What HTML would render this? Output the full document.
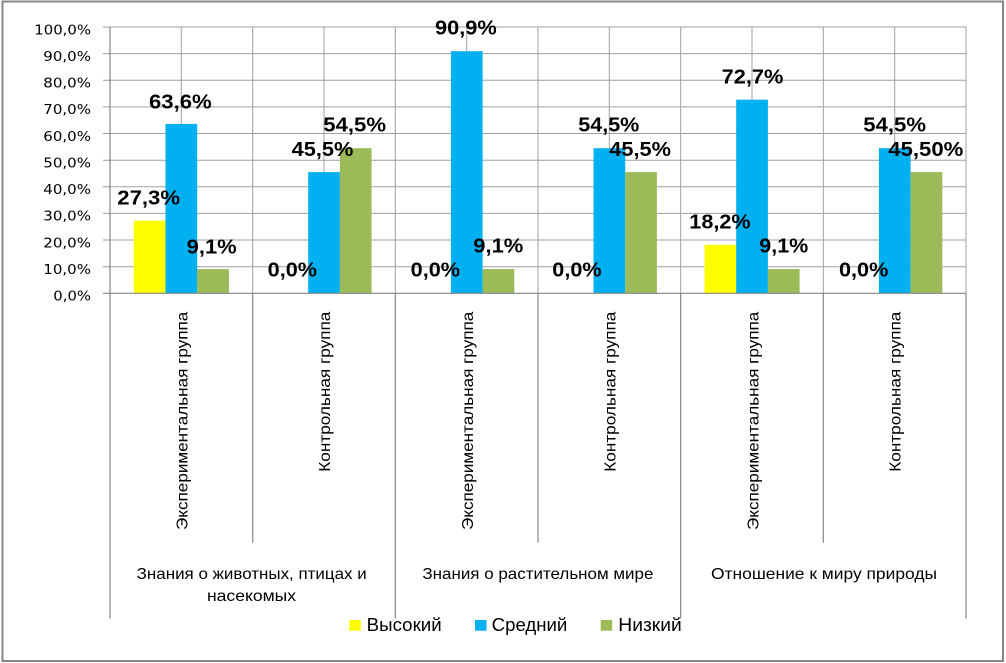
<!DOCTYPE html>
<html>
<head>
<meta charset="utf-8">
<style>
  html, body { margin:0; padding:0; background:#ffffff; }
  body { width:1006px; height:663px; overflow:hidden; }
  svg { display:block; }
  .yl { font-family:"DejaVu Sans","Liberation Sans",sans-serif; font-size:13px; fill:#000; }
  .dl { font-family:"Liberation Sans",sans-serif; font-size:20px; font-weight:bold; fill:#000; }
  .cl { font-family:"Liberation Sans",sans-serif; font-size:16px; fill:#000; }
  .lg { font-family:"Liberation Sans",sans-serif; font-size:18px; fill:#000; }
</style>
</head>
<body>
<svg width="1006" height="663" viewBox="0 0 1006 663" xmlns="http://www.w3.org/2000/svg">
  <rect x="0" y="0" width="1006" height="663" fill="#ffffff"/>
  <!-- outer frame -->
  <rect x="2.5" y="1.5" width="1000.5" height="659.5" fill="none" stroke="#868686" stroke-width="2"/>

  <!-- horizontal gridlines + ticks -->
  <g stroke="#a0a0a0" stroke-width="1">
    <line x1="103" y1="27.0" x2="966" y2="27.0"/>
    <line x1="103" y1="53.6" x2="966" y2="53.6"/>
    <line x1="103" y1="80.3" x2="966" y2="80.3"/>
    <line x1="103" y1="106.9" x2="966" y2="106.9"/>
    <line x1="103" y1="133.5" x2="966" y2="133.5"/>
    <line x1="103" y1="160.2" x2="966" y2="160.2"/>
    <line x1="103" y1="186.8" x2="966" y2="186.8"/>
    <line x1="103" y1="213.4" x2="966" y2="213.4"/>
    <line x1="103" y1="240.0" x2="966" y2="240.0"/>
    <line x1="103" y1="266.7" x2="966" y2="266.7"/>
  </g>
  <!-- vertical gridlines -->
  <g stroke="#a0a0a0" stroke-width="1">
    <line x1="181.3" y1="27" x2="181.3" y2="293.3"/>
    <line x1="252.7" y1="27" x2="252.7" y2="293.3"/>
    <line x1="324.0" y1="27" x2="324.0" y2="293.3"/>
    <line x1="395.3" y1="27" x2="395.3" y2="293.3"/>
    <line x1="466.7" y1="27" x2="466.7" y2="293.3"/>
    <line x1="538.0" y1="27" x2="538.0" y2="293.3"/>
    <line x1="609.3" y1="27" x2="609.3" y2="293.3"/>
    <line x1="680.7" y1="27" x2="680.7" y2="293.3"/>
    <line x1="752.0" y1="27" x2="752.0" y2="293.3"/>
    <line x1="823.3" y1="27" x2="823.3" y2="293.3"/>
    <line x1="894.7" y1="27" x2="894.7" y2="293.3"/>
    <line x1="966.0" y1="27" x2="966.0" y2="293.3"/>
  </g>

  <!-- bars -->
  <g>
    <!-- cat 0 c=181.3 -->
    <rect x="133.8" y="220.6" width="31.7" height="72.7" fill="#ffff00"/>
    <rect x="165.5" y="123.9" width="31.7" height="169.4" fill="#00b0f0"/>
    <rect x="197.2" y="269.1" width="31.7" height="24.2" fill="#9bbb59"/>
    <!-- cat 1 c=324 -->
    <rect x="308.2" y="172.1" width="31.7" height="121.2" fill="#00b0f0"/>
    <rect x="339.9" y="148.2" width="31.7" height="145.1" fill="#9bbb59"/>
    <!-- cat 2 c=466.7 -->
    <rect x="450.9" y="51.2" width="31.7" height="242.1" fill="#00b0f0"/>
    <rect x="482.6" y="269.1" width="31.7" height="24.2" fill="#9bbb59"/>
    <!-- cat 3 c=609.3 -->
    <rect x="593.5" y="148.2" width="31.7" height="145.1" fill="#00b0f0"/>
    <rect x="625.2" y="172.1" width="31.7" height="121.2" fill="#9bbb59"/>
    <!-- cat 4 c=752 -->
    <rect x="704.5" y="244.8" width="31.7" height="48.5" fill="#ffff00"/>
    <rect x="736.2" y="99.7" width="31.7" height="193.6" fill="#00b0f0"/>
    <rect x="767.9" y="269.1" width="31.7" height="24.2" fill="#9bbb59"/>
    <!-- cat 5 c=894.7 -->
    <rect x="878.9" y="148.2" width="31.7" height="145.1" fill="#00b0f0"/>
    <rect x="910.6" y="172.1" width="31.7" height="121.2" fill="#9bbb59"/>
  </g>

  <!-- axes -->
  <g stroke="#868686" stroke-width="1.2">
    <line x1="110" y1="27" x2="110" y2="618.5"/>
    <line x1="103" y1="293.3" x2="966" y2="293.3"/>
    <line x1="252.7" y1="293.3" x2="252.7" y2="542.7"/>
    <line x1="395.3" y1="293.3" x2="395.3" y2="618.5"/>
    <line x1="538.0" y1="293.3" x2="538.0" y2="542.7"/>
    <line x1="680.7" y1="293.3" x2="680.7" y2="618.5"/>
    <line x1="823.3" y1="293.3" x2="823.3" y2="542.7"/>
    <line x1="966.0" y1="293.3" x2="966.0" y2="618.5"/>
  </g>

  <!-- y-axis labels -->
  <g class="yl" text-anchor="end">
    <text x="91" y="34.3" textLength="56.7" lengthAdjust="spacingAndGlyphs">100,0%</text>
    <text x="91" y="60.9" textLength="47.7" lengthAdjust="spacingAndGlyphs">90,0%</text>
    <text x="91" y="87.6" textLength="47.7" lengthAdjust="spacingAndGlyphs">80,0%</text>
    <text x="91" y="114.2" textLength="47.7" lengthAdjust="spacingAndGlyphs">70,0%</text>
    <text x="91" y="140.8" textLength="47.7" lengthAdjust="spacingAndGlyphs">60,0%</text>
    <text x="91" y="167.5" textLength="47.7" lengthAdjust="spacingAndGlyphs">50,0%</text>
    <text x="91" y="194.1" textLength="47.7" lengthAdjust="spacingAndGlyphs">40,0%</text>
    <text x="91" y="220.7" textLength="47.7" lengthAdjust="spacingAndGlyphs">30,0%</text>
    <text x="91" y="247.3" textLength="47.7" lengthAdjust="spacingAndGlyphs">20,0%</text>
    <text x="91" y="274.0" textLength="47.7" lengthAdjust="spacingAndGlyphs">10,0%</text>
    <text x="91" y="300.6" textLength="37.7" lengthAdjust="spacingAndGlyphs">0,0%</text>
  </g>

  <!-- data labels -->
  <g class="dl">
    <text x="117.3" y="204.7" textLength="62.7" lengthAdjust="spacingAndGlyphs">27,3%</text>
    <text x="149.0" y="108.3" textLength="62.7" lengthAdjust="spacingAndGlyphs">63,6%</text>
    <text x="186.7" y="253.3" textLength="50" lengthAdjust="spacingAndGlyphs">9,1%</text>
    <text x="267.7" y="276.7" textLength="49.3" lengthAdjust="spacingAndGlyphs">0,0%</text>
    <text x="291.7" y="156" textLength="61.7" lengthAdjust="spacingAndGlyphs">45,5%</text>
    <text x="323.3" y="131.7" textLength="62.7" lengthAdjust="spacingAndGlyphs">54,5%</text>
    <text x="410.7" y="276.7" textLength="49.3" lengthAdjust="spacingAndGlyphs">0,0%</text>
    <text x="435.0" y="34.3" textLength="61.7" lengthAdjust="spacingAndGlyphs">90,9%</text>
    <text x="473.3" y="252.7" textLength="50" lengthAdjust="spacingAndGlyphs">9,1%</text>
    <text x="552.3" y="276.7" textLength="49.3" lengthAdjust="spacingAndGlyphs">0,0%</text>
    <text x="578.3" y="131.7" textLength="61" lengthAdjust="spacingAndGlyphs">54,5%</text>
    <text x="609.3" y="156" textLength="61.7" lengthAdjust="spacingAndGlyphs">45,5%</text>
    <text x="689.3" y="228.3" textLength="61.3" lengthAdjust="spacingAndGlyphs">18,2%</text>
    <text x="721.7" y="83.3" textLength="61.7" lengthAdjust="spacingAndGlyphs">72,7%</text>
    <text x="759.3" y="252.7" textLength="49" lengthAdjust="spacingAndGlyphs">9,1%</text>
    <text x="839.0" y="276.7" textLength="49.3" lengthAdjust="spacingAndGlyphs">0,0%</text>
    <text x="863.3" y="131.7" textLength="62.7" lengthAdjust="spacingAndGlyphs">54,5%</text>
    <text x="888.3" y="156" textLength="75" lengthAdjust="spacingAndGlyphs">45,50%</text>
  </g>

  <!-- rotated category labels -->
  <g class="cl" text-anchor="end">
    <text x="187.7" y="311.7" transform="rotate(-90 187.7 311.7)" textLength="218.3" lengthAdjust="spacingAndGlyphs">Экспериментальная группа</text>
    <text x="330.0" y="311.7" transform="rotate(-90 330.0 311.7)" textLength="160" lengthAdjust="spacingAndGlyphs">Контрольная группа</text>
    <text x="473.1" y="311.7" transform="rotate(-90 473.1 311.7)" textLength="218.3" lengthAdjust="spacingAndGlyphs">Экспериментальная группа</text>
    <text x="615.3" y="311.7" transform="rotate(-90 615.3 311.7)" textLength="160" lengthAdjust="spacingAndGlyphs">Контрольная группа</text>
    <text x="758.4" y="311.7" transform="rotate(-90 758.4 311.7)" textLength="218.3" lengthAdjust="spacingAndGlyphs">Экспериментальная группа</text>
    <text x="900.7" y="311.7" transform="rotate(-90 900.7 311.7)" textLength="160" lengthAdjust="spacingAndGlyphs">Контрольная группа</text>
  </g>

  <!-- group labels -->
  <g class="cl" text-anchor="middle">
    <text x="251.7" y="579" textLength="230" lengthAdjust="spacingAndGlyphs">Знания о животных, птицах и</text>
    <text x="251.5" y="601" textLength="89" lengthAdjust="spacingAndGlyphs">насекомых</text>
    <text x="537.9" y="579" textLength="231" lengthAdjust="spacingAndGlyphs">Знания о растительном мире</text>
    <text x="824.0" y="579" textLength="226" lengthAdjust="spacingAndGlyphs">Отношение к миру природы</text>
  </g>

  <!-- legend -->
  <rect x="349.3" y="620" width="11.5" height="10.7" fill="#ffff00"/>
  <rect x="475.0" y="620" width="11.5" height="10.7" fill="#00b0f0"/>
  <rect x="600.7" y="620" width="11.5" height="10.7" fill="#9bbb59"/>
  <g class="lg">
    <text x="366.7" y="631" textLength="75" lengthAdjust="spacingAndGlyphs">Высокий</text>
    <text x="491.7" y="631" textLength="75.6" lengthAdjust="spacingAndGlyphs">Средний</text>
    <text x="618.3" y="631" textLength="63.4" lengthAdjust="spacingAndGlyphs">Низкий</text>
  </g>
</svg>
</body>
</html>
